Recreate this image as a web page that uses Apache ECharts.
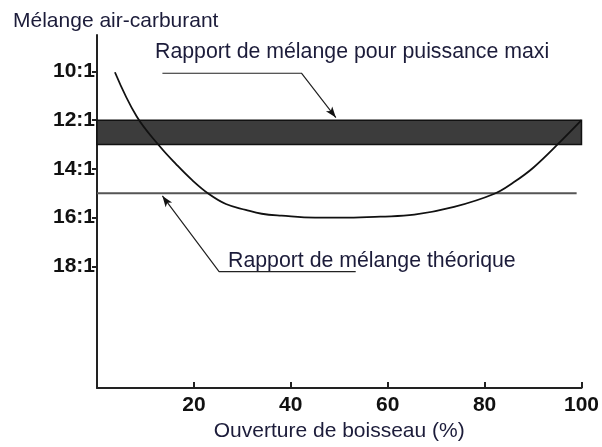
<!DOCTYPE html>
<html>
<head>
<meta charset="utf-8">
<script src="https://cdn.jsdelivr.net/npm/echarts@6/dist/echarts.min.js"></script>
<style>
  html, body { margin: 0; padding: 0; background: #fff; }
  #chart { width: 602px; height: 447px; }
</style>
</head>
<body>
<div id="chart"></div>
<script>
  // courbe de mélange selon l'ouverture du boisseau
  const curveX = [3.7, 8.2, 12.9, 16.4, 19.7, 23.1, 26.6, 30.7, 34.0, 38.1, 45.0, 51.8, 58.5, 65.5, 73.7, 81.9, 86.0, 90.1, 95.8, 100]
  const curveY = [10.03, 11.85, 13.06, 13.82, 14.47, 15.03, 15.44, 15.68, 15.84, 15.92, 16.0, 16.0, 15.96, 15.88, 15.56, 15.03, 14.55, 13.94, 12.85, 12.0]

  // bande puissance maxi (12:1 à 13:1) et ligne théorique (15:1)
  const bandRange = [12, 13]
  const bandX = [0, 100]
  const theoX = [0, 99]
  const theoY = 15

  // repères des flèches
  const maxiLeader = [[13.5, 10.07], [42.2, 10.07], [49.3, 11.89]]
  const theoLeader = [[53.4, 18.22], [25.2, 18.22], [13.5, 15.11]]

  const yTicks = [10, 12, 14, 16, 18]
  const xTicks = [20, 40, 60, 80, 100]

  const textColor = '#1c1c3a'

  function leader(points, rotate) {
    return {
      type: 'line',
      silent: true,
      showSymbol: true,
      symbol: 'none',
      lineStyle: { color: '#222', width: 1.2 },
      data: points.map((p, i) => i === points.length - 1
        ? { value: p, symbol: 'arrow', symbolSize: [6, 11], symbolRotate: rotate, itemStyle: { color: '#111' } }
        : { value: p }),
      z: 4
    }
  }

  const chart = echarts.init(document.getElementById('chart'))
  chart.setOption({
    backgroundColor: '#fff',
    animation: false,
    grid: { left: 97, right: 16, top: 35, bottom: 52 },
    xAxis: {
      type: 'value',
      min: 0,
      max: 100,
      interval: 20,
      name: 'Ouverture de boisseau (%)',
      nameLocation: 'middle',
      nameGap: 31,
      nameTextStyle: { color: textColor, fontSize: 21, fontFamily: 'Liberation Sans' },
      axisLine: { lineStyle: { color: '#222', width: 2 } },
      axisTick: { inside: true, length: 6, lineStyle: { color: '#222', width: 2 } },
      axisLabel: {
        margin: 7,
        color: '#111',
        fontSize: 21,
        fontWeight: 'bold',
        fontFamily: 'Liberation Sans',
        formatter: v => (xTicks.indexOf(v) >= 0 ? String(v) : '')
      },
      splitLine: { show: false }
    },
    yAxis: {
      type: 'value',
      inverse: true,
      min: 8.5,
      max: 23,
      axisLine: { show: true, lineStyle: { color: '#222', width: 2 } },
      axisTick: { show: true, customValues: yTicks, length: 5, lineStyle: { color: '#222', width: 2 } },
      axisLabel: {
        customValues: yTicks,
        margin: 2,
        color: '#111',
        fontSize: 21,
        fontWeight: 'bold',
        fontFamily: 'Liberation Sans',
        formatter: v => v + ':1'
      },
      splitLine: { show: false }
    },
    graphic: [
      {
        type: 'text', left: 13, top: 11,
        style: { text: 'Mélange air-carburant', fill: textColor, fontSize: 21, fontFamily: 'Liberation Sans' }
      },
      {
        type: 'text', left: 155, top: 42,
        style: { text: 'Rapport de mélange pour puissance maxi', fill: textColor, fontSize: 21.3, fontFamily: 'Liberation Sans' }
      },
      {
        type: 'text', left: 228, top: 251,
        style: { text: 'Rapport de mélange théorique', fill: textColor, fontSize: 21.3, fontFamily: 'Liberation Sans' }
      }
    ],
    series: [
      {
        type: 'line',
        silent: true,
        data: [],
        markArea: {
          silent: true,
          itemStyle: { color: '#3c3c3c', borderColor: '#111', borderWidth: 1.5 },
          data: [[{ coord: [bandX[0], bandRange[0]] }, { coord: [bandX[1], bandRange[1]] }]]
        },
        z: 1
      },
      {
        type: 'line',
        silent: true,
        symbol: 'none',
        lineStyle: { color: '#555', width: 2 },
        data: theoX.map(x => [x, theoY]),
        z: 2
      },
      {
        type: 'line',
        silent: true,
        symbol: 'none',
        smooth: 0.4,
        lineStyle: { color: '#111', width: 1.8 },
        data: curveX.map((x, i) => [x, curveY[i]]),
        z: 3
      },
      leader(maxiLeader, -142),
      leader(theoLeader, 36)
    ]
  })
</script>
</body>
</html>
